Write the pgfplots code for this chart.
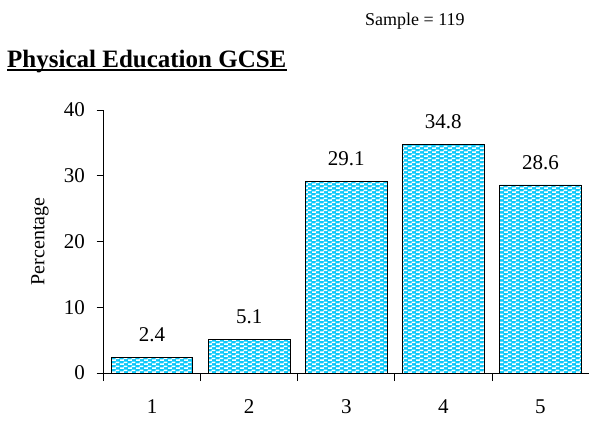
\documentclass[border=0pt]{standalone}
\usepackage{fontspec}
\setmainfont{Liberation Serif}
\usepackage{pgfplots}
\pgfplotsset{compat=1.18}
\usetikzlibrary{patterns}
\definecolor{barcyan}{RGB}{10,200,250}
\pgfdeclarepatternformonly{bardash}{\pgfqpoint{0bp}{0bp}}{\pgfqpoint{8bp}{4.2bp}}{\pgfqpoint{8bp}{4.2bp}}{%
 \pgfpathrectangle{\pgfqpoint{0.2bp}{0.2bp}}{\pgfqpoint{4.2bp}{1.7bp}}%
 \pgfpathrectangle{\pgfqpoint{4.2bp}{2.3bp}}{\pgfqpoint{4.2bp}{1.7bp}}%
 \pgfusepath{fill}}
\begin{document}
\begin{tikzpicture}
\useasboundingbox (0,0) rectangle (589bp,-423bp);
\node[anchor=base west, inner sep=0pt, font=\fontsize{25bp}{30bp}\selectfont\bfseries] (title) at (7bp,-67bp) {Physical Education GCSE};
\draw[line width=2.6bp] ([yshift=-3bp]title.base west) -- ([yshift=-3bp]title.base east);
\node[anchor=base west, inner sep=0pt, font=\fontsize{18bp}{22bp}\selectfont] at (365bp,-25bp) {Sample = 119};
\begin{axis}[
 at={(103.5bp,-373bp)}, anchor=south west,
 scale only axis, width=485.5bp, height=263bp,
 xmin=0.5, xmax=5.5, ymin=0, ymax=40,
 axis x line=bottom, axis y line=left,
 axis line style={-, line width=0.8bp},
 xtick={1,2,3,4,5},
 major x tick style={draw=none},
 minor xtick={0.5,1.5,2.5,3.5,4.5,5.5},
 ytick={0,10,20,30,40},
 tick align=outside,
 major tick length=7bp, minor tick length=8bp,
 tick style={black, line width=0.8bp},
 /pgf/number format/assume math mode=true,
 tick label style={font=\fontsize{21bp}{24bp}\selectfont},
 yticklabel style={xshift=-8bp},
 xticklabel style={yshift=-16bp},
 ylabel={Percentage},
 ylabel style={at={(axis description cs:-0.1308,0.5)}, anchor=center, font=\fontsize{20bp}{24bp}\selectfont},
 nodes near coords,
 nodes near coords style={font=\fontsize{21bp}{24bp}\selectfont, inner sep=0pt, anchor=south, yshift=15bp},
]
\addplot[ybar, bar width=81.5bp, draw=black, line width=0.8bp, fill=barcyan, postaction={pattern=bardash, pattern color=white}] coordinates {(1,2.4) (2,5.1) (3,29.1) (4,34.8) (5,28.6)};
\end{axis}
\end{tikzpicture}
\end{document}
